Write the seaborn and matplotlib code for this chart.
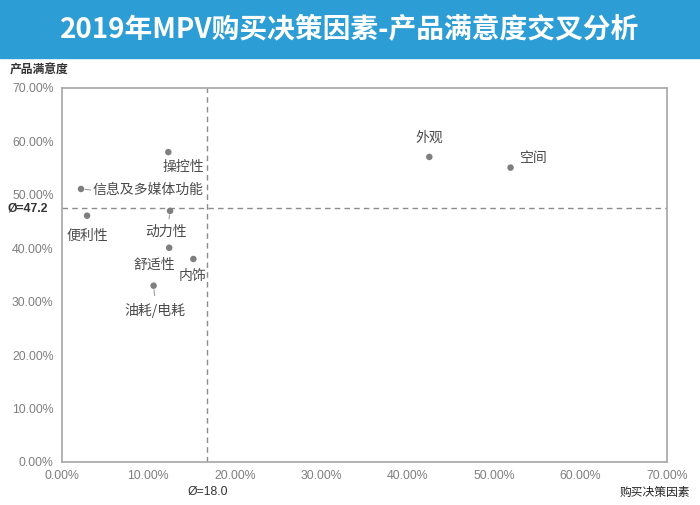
import matplotlib
matplotlib.use("Agg")
import matplotlib.pyplot as plt
import seaborn as sns
import pandas as pd
from matplotlib.patches import Rectangle

factors = ["操控性", "信息及多媒体功能", "便利性", "动力性", "舒适性", "内饰", "油耗/电耗", "外观", "空间"]
decision = [12.3, 2.2, 2.9, 12.5, 12.4, 15.2, 10.6, 42.5, 51.9]
satisfaction = [58.0, 51.1, 46.1, 47.0, 40.1, 38.0, 33.0, 57.1, 55.1]
mean_x_pos, mean_x_label = 16.8, "Ø=18.0"
mean_y_pos, mean_y_label = 47.6, "Ø=47.2"
ticks = [0, 10, 20, 30, 40, 50, 60, 70]
tick_labels = ["0.00%", "10.00%", "20.00%", "30.00%", "40.00%", "50.00%", "60.00%", "70.00%"]
title = "2019年MPV购买决策因素-产品满意度交叉分析"

df = pd.DataFrame({"factor": factors, "x": decision, "y": satisfaction})

sns.set_style("white")
plt.rcParams["font.family"] = ["Noto Sans CJK SC", "DejaVu Sans"]

fig = plt.figure(figsize=(7, 5.05), dpi=100)
fig.patches.append(Rectangle((0, 1 - 58 / 505), 1, 58 / 505, transform=fig.transFigure,
                             color="#2C9DD5", zorder=0))
fig.text(0.5, 1 - 30 / 505, title, color="white", fontsize=20, fontweight="bold",
         ha="center", va="center")

ax = fig.add_axes([62 / 700, 43 / 505, 605 / 700, 374 / 505])
sns.scatterplot(data=df, x="x", y="y", ax=ax, color="#7F7F7F", s=22, edgecolor="none", zorder=3)

ax.set_xlim(0, 70)
ax.set_ylim(0, 70)
ax.set_xticks(ticks)
ax.set_xticklabels(tick_labels)
ax.set_yticks(ticks)
ax.set_yticklabels(tick_labels)
ax.tick_params(axis="both", colors="#7F7F7F", labelsize=8.8, length=0, pad=6)
for lab in ax.get_xticklabels() + ax.get_yticklabels():
    lab.set_family(["Liberation Sans", "DejaVu Sans"])
ax.set_xlabel("")
ax.set_ylabel("")
for sp in ax.spines.values():
    sp.set_color("#A6A6A6")
    sp.set_linewidth(1.2)

ax.axvline(mean_x_pos, color="#8C8C8C", ls=(0, (4, 3)), lw=1)
ax.axhline(mean_y_pos, color="#8C8C8C", ls=(0, (4, 3)), lw=1)

# label offsets in pixels (dx, dy), ha
offsets = {
    "操控性": (15, -15, "center"),
    "信息及多媒体功能": (12, -1, "left"),
    "便利性": (0, -20, "center"),
    "动力性": (-4, -21, "center"),
    "舒适性": (-15, -17, "center"),
    "内饰": (-1, -17, "center"),
    "油耗/电耗": (1, -25, "center"),
    "外观": (0, 19, "center"),
    "空间": (23, 10, "center"),
}
for f, xv, yv in zip(factors, decision, satisfaction):
    dx, dy, ha = offsets[f]
    ax.annotate(f, (xv, yv), xytext=(dx * 0.72, dy * 0.72), textcoords="offset points",
                ha=ha, va="center", fontsize=10, color="#4A4A4A")
# leader lines
ax.annotate("", (2.2, 51.1), xytext=(10 * 0.72, -1 * 0.72), textcoords="offset points",
            arrowprops=dict(arrowstyle="-", color="#A0A0A0", lw=0.8, shrinkA=0, shrinkB=3))
ax.annotate("", (12.5, 47.0), xytext=(-1 * 0.72, -8 * 0.72), textcoords="offset points",
            arrowprops=dict(arrowstyle="-", color="#A0A0A0", lw=0.8, shrinkA=0, shrinkB=3))
ax.annotate("", (10.6, 33.0), xytext=(1 * 0.72, -10 * 0.72), textcoords="offset points",
            arrowprops=dict(arrowstyle="-", color="#A0A0A0", lw=0.8, shrinkA=0, shrinkB=3))

fig.text(10 / 700, 1 - 70 / 505, "产品满意度", fontsize=8.5, fontweight="bold",
         color="#333333", ha="left", va="center")
fig.text(690 / 700, 1 - 492 / 505, "购买决策因素", fontsize=8.5, color="#222222",
         ha="right", va="center")
fig.text(8 / 700, 1 - 209 / 505, mean_y_label, fontsize=8.8, fontweight="bold",
         color="#333333", ha="left", va="center", family=["Liberation Sans", "DejaVu Sans"])
fig.text(188 / 700, 1 - 492 / 505, mean_x_label, fontsize=8.8, color="#333333",
         ha="left", va="center", family=["Liberation Sans", "DejaVu Sans"])

fig.savefig("out.png", dpi=100)
